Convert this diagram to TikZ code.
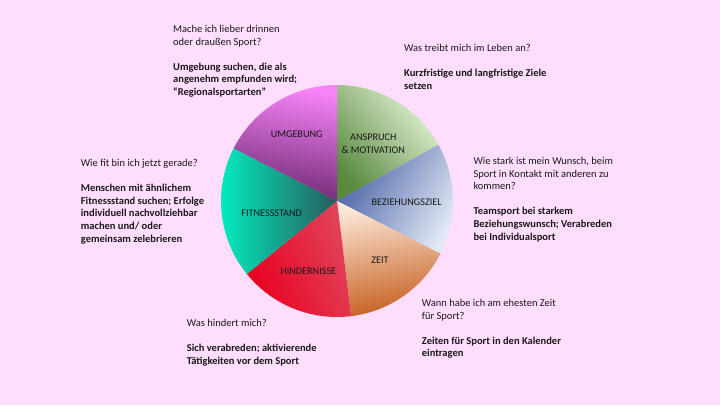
\documentclass[tikz,border=0pt]{standalone}
\usepackage{fontspec}
\setmainfont{Carlito}
\usepackage{tikz}

\definecolor{bgpink}{RGB}{255,221,253}
\definecolor{anspruchdark}{HTML}{5A8A40}
\definecolor{anspruchlight}{HTML}{E2F2D6}
\definecolor{beziehungdark}{HTML}{4A62A6}
\definecolor{beziehunglight}{HTML}{E2E9F5}
\definecolor{zeitdark}{HTML}{C55F1E}
\definecolor{zeitlight}{HTML}{FDE8DA}
\definecolor{hindernisdark}{HTML}{E8001E}
\definecolor{hindernislight}{HTML}{E2445C}
\definecolor{fitnessdark}{HTML}{285A5C}
\definecolor{fitnesslight}{HTML}{00F5C4}
\definecolor{umgebungdark}{HTML}{6C2870}
\definecolor{umgebunglight}{HTML}{F884F8}

\begin{document}
\begin{tikzpicture}[x=1pt,y=1pt,
    txt/.style={anchor=north west,inner sep=0pt,align=left,text=black!90,
        font=\fontsize{10.5}{12.6}\selectfont},
    lbl/.style={inner sep=0pt,align=center,text=black!90,
        font=\fontsize{10.2}{12.6}\selectfont}]
    \fill[bgpink] (0,0) rectangle (720,405);
    \useasboundingbox (0,0) rectangle (720,405);

    % pie slices
    \begin{scope}[shift={(337,204)}]
        \shade[top color=anspruchlight,bottom color=anspruchdark,shading angle=-50]
            (0,0) -- (90:116) arc[start angle=90,end angle=29,radius=116pt] -- cycle;
        \shade[top color=beziehunglight,bottom color=beziehungdark,shading angle=-120]
            (0,0) -- (29:116) arc[start angle=29,end angle=-27,radius=116pt] -- cycle;
        \shade[top color=zeitlight,bottom color=zeitdark,shading angle=10]
            (0,0) -- (-27:116) arc[start angle=-27,end angle=-83,radius=116pt] -- cycle;
        \shade[top color=hindernislight,bottom color=hindernisdark,shading angle=-70]
            (0,0) -- (-83:116) arc[start angle=-83,end angle=-141,radius=116pt] -- cycle;
        \shade[top color=fitnesslight,bottom color=fitnessdark,shading angle=90]
            (0,0) -- (-141:116) arc[start angle=-141,end angle=-207,radius=116pt] -- cycle;
        \shade[top color=umgebunglight,bottom color=umgebungdark,shading angle=-10]
            (0,0) -- (153:116) arc[start angle=153,end angle=90,radius=116pt] -- cycle;
    \end{scope}

    % slice labels
    \node[lbl] (umgebung) at (296.7,271) {UMGEBUNG};
    \node[lbl] (anspruch) at (373.3,261) {ANSPRUCH\\\& MOTIVATION};
    \node[lbl] (beziehung) at (406.7,202.3) {BEZIEHUNGSZIEL};
    \node[lbl] (fitness) at (271.7,191.7) {FITNESSSTAND};
    \node[lbl] (zeit) at (380,144.3) {ZEIT};
    \node[lbl] (hindernis) at (308.3,133.3) {HINDERNISSE};

    % questions and hints
    \node[txt] (umgebungText) at (173,380) {Mache ich lieber drinnen\\oder draußen Sport?\\[12.6pt]
        \bfseries Umgebung suchen, die als\\\bfseries angenehm empfunden wird;\\\bfseries “Regionalsportarten”};
    \node[txt] (anspruchText) at (404,361) {Was treibt mich im Leben an?\\[12.6pt]
        \bfseries Kurzfristige und langfristige Ziele\\\bfseries setzen};
    \node[txt] (fitnessText) at (80.7,246) {Wie fit bin ich jetzt gerade?\\[12.6pt]
        \bfseries Menschen mit ähnlichem\\\bfseries Fitnessstand suchen; Erfolge\\\bfseries individuell nachvollziehbar\\
        \bfseries machen und/ oder\\\bfseries gemeinsam zelebrieren};
    \node[txt] (beziehungText) at (473.3,248) {Wie stark ist mein Wunsch, beim\\Sport in Kontakt mit anderen zu\\kommen?\\[12.6pt]
        \bfseries Teamsport bei starkem\\\bfseries Beziehungswunsch; Verabreden\\\bfseries bei Individualsport};
    \node[txt] (zeitText) at (421.7,106) {Wann habe ich am ehesten Zeit\\für Sport?\\[12.6pt]
        \bfseries Zeiten für Sport in den Kalender\\\bfseries eintragen};
    \node[txt] (hindernisText) at (186.7,86) {Was hindert mich?\\[12.6pt]
        \bfseries Sich verabreden; aktivierende\\\bfseries Tätigkeiten vor dem Sport};
\end{tikzpicture}
\end{document}
